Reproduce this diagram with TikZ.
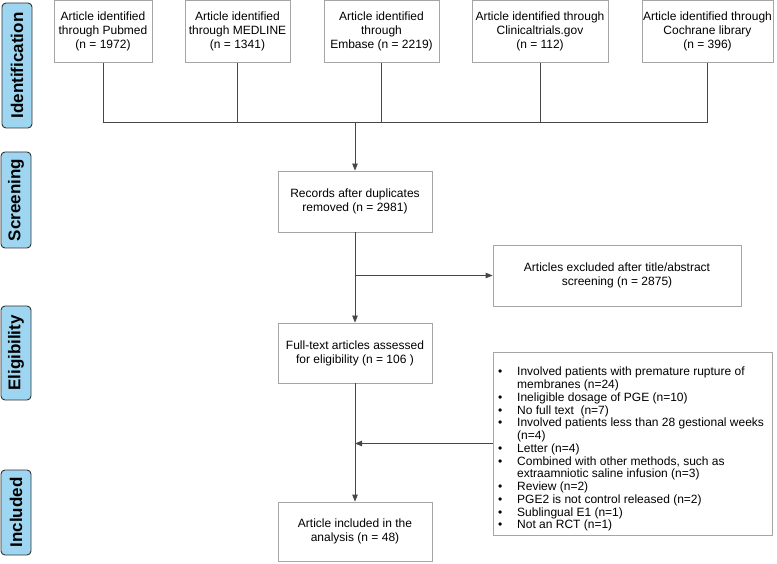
\documentclass[tikz,border=0pt]{standalone}
\usepackage{fontspec}
\setmainfont{Liberation Sans}
\usetikzlibrary{arrows.meta}
\definecolor{boxgray}{RGB}{165,165,165}
\definecolor{linegray}{RGB}{70,70,70}
\definecolor{lblue}{RGB}{158,214,242}
\definecolor{lborder}{RGB}{50,50,50}
\begin{document}
\begin{tikzpicture}[x=1pt,y=-1pt,
  box/.style={draw=boxgray,line width=0.8pt,rectangle,inner sep=0pt,align=center,
    font=\fontsize{12}{14}\selectfont,minimum height=61pt},
  phase/.style={draw=lborder,fill=lblue,line width=0.9pt,rounded corners=4pt,rotate=90,
    inner sep=0pt,minimum height=30pt,font=\fontsize{17}{20}\selectfont\bfseries},
  conn/.style={draw=linegray,line width=0.8pt},
  arr/.style={conn,-{Triangle[length=7pt,width=5.5pt]}}]
\useasboundingbox (0,0) rectangle (777,564);
% phase labels
\node[phase,minimum width=125pt] (pid) at (17,65.5) {Identification};
\node[phase,minimum width=96pt] (psc) at (16,200) {Screening};
\node[phase,minimum width=94pt] (pel) at (16,353) {Eligibility};
\node[phase,minimum width=85pt] (pin) at (16,512.5) {Included};
% top boxes
\node[box,minimum width=98pt,minimum height=62pt] (b1) at (103,31.5) {Article identified\\through Pubmed\\(n = 1972)};
\node[box,minimum width=105pt,minimum height=62pt] (b2) at (237.5,31.5) {Article identified\\through MEDLINE\\(n = 1341)};
\node[box,minimum width=115pt,minimum height=62pt] (b3) at (381.5,31.5) {Article identified\\through\\Embase (n = 2219)};
\node[box,minimum width=136pt,minimum height=62pt] (b4) at (540,31.5) {Article identified through\\Clinicaltrials.gov\\(n = 112)};
\node[box,minimum width=131pt,minimum height=62pt] (b5) at (707.5,31.5) {Article identified through\\Cochrane library\\(n = 396)};
% main flow
\node[box,minimum width=154pt] (rec) at (355,201.5) {Records after duplicates\\removed (n = 2981)};
\node[box,minimum width=248pt] (exc) at (617,275.5) {Articles excluded after title/abstract\\screening (n = 2875)};
\node[box,minimum width=154pt,minimum height=60pt] (full) at (355,353) {Full-text articles assessed\\for eligibility (n = 106 )};
\node[box,minimum width=154pt,minimum height=59pt] (inc) at (355,531.5) {Article included in the\\analysis (n = 48)};
\node[box,minimum width=279pt,minimum height=183pt] (list) at (632.5,443.5) {};
\node[anchor=north west,inner sep=0pt,align=left,font=\fontsize{12}{12.75}\selectfont] (listtext) at (498,367)
{\makebox[19pt][l]{•}Involved patients with premature rupture of\\
\makebox[19pt][l]{}membranes (n=24)\\
\makebox[19pt][l]{•}Ineligible dosage of PGE (n=10)\\
\makebox[19pt][l]{•}No full text\ \ (n=7)\\
\makebox[19pt][l]{•}Involved patients less than 28 gestional weeks\\
\makebox[19pt][l]{}(n=4)\\
\makebox[19pt][l]{•}Letter (n=4)\\
\makebox[19pt][l]{•}Combined with other methods, such as\\
\makebox[19pt][l]{}extraamniotic saline infusion (n=3)\\
\makebox[19pt][l]{•}Review (n=2)\\
\makebox[19pt][l]{•}PGE2 is not control released (n=2)\\
\makebox[19pt][l]{•}Sublingual E1 (n=1)\\
\makebox[19pt][l]{•}Not an RCT (n=1)};
% connectors
\coordinate (j) at (355,122);
\foreach \b in {b1,b2,b3,b4,b5} {\draw[conn] (\b.south) -- (\b.south |- j);}
\draw[conn] (b1.south |- j) -- (b5.south |- j);
\draw[arr] (j) -- (rec.north);
\draw[arr] (rec.south) -- (full.north);
\draw[arr] (rec.south |- exc.west) -- (exc.west);
\draw[arr] (full.south) -- (inc.north);
\draw[arr] (list.west) -- (full.south |- list.west);
\end{tikzpicture}
\end{document}
